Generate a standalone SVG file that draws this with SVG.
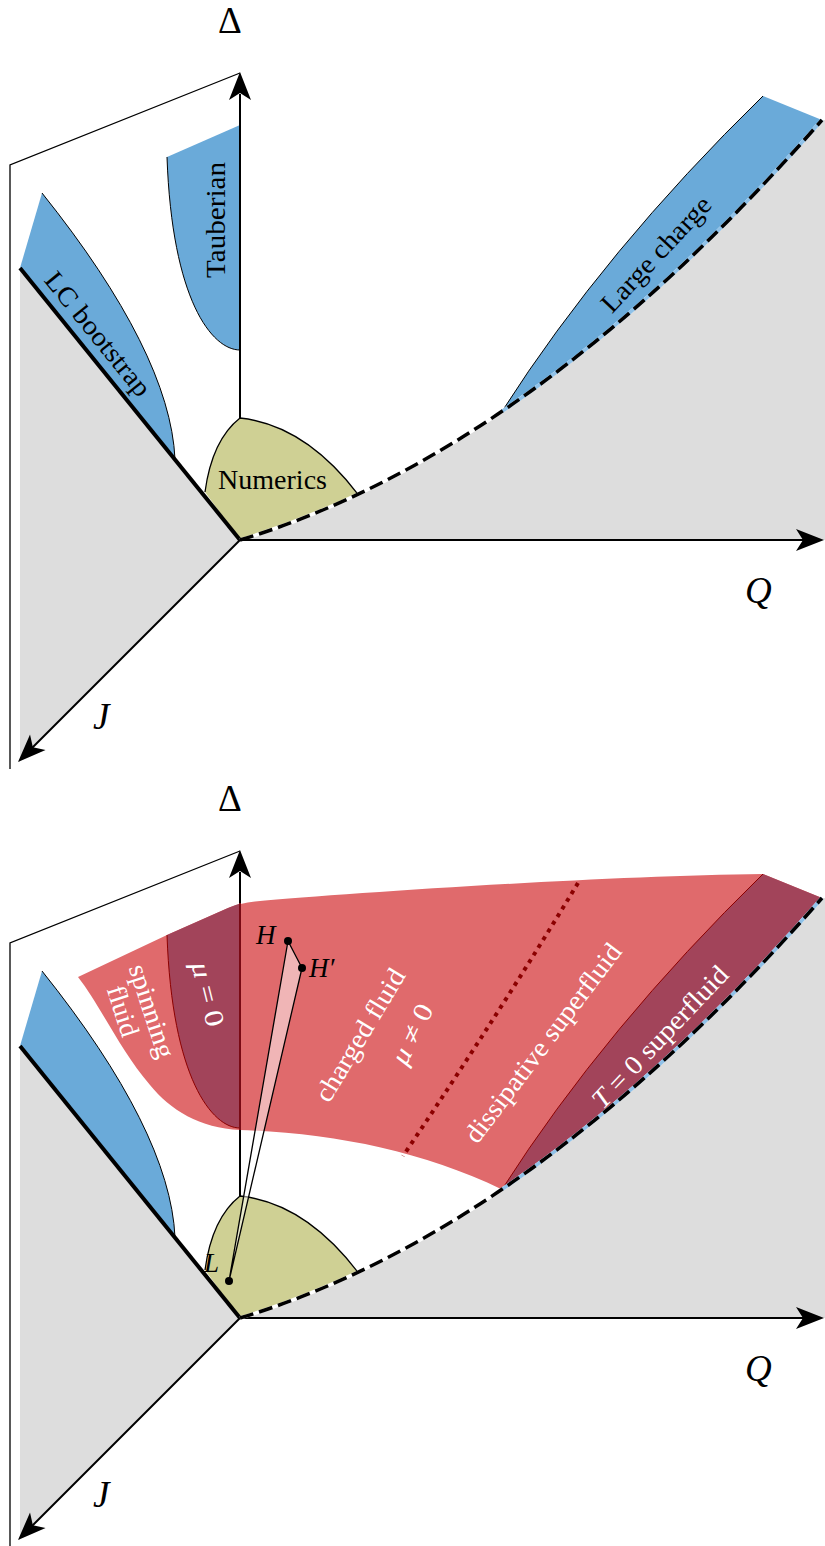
<svg xmlns="http://www.w3.org/2000/svg" width="825" height="1546" viewBox="0 0 825 1546">
<style>
.gray{fill:#dddddd;stroke:none}
.blue{fill:#6aaad9;stroke:none}
.olive{fill:#cfd094;stroke:none}
.red{fill:#e06a6c;stroke:none}
.maroon{fill:#a2445a;stroke:none}
.edge{fill:none;stroke:#000;stroke-width:1}
.redge{fill:none;stroke:#8b0000;stroke-width:1}
.ax{fill:none;stroke:#000;stroke-width:2}
.frame{fill:none;stroke:#000;stroke-width:1.3}
.thick{fill:none;stroke:#000;stroke-width:4}
.dashbase{fill:none;stroke:#fff;stroke-width:3.5}
.dashblue{fill:none;stroke:#8fc1e8;stroke-width:3.5}
.dash{fill:none;stroke:#000;stroke-width:3.5;stroke-dasharray:14 6}
.lbl{font-family:"Liberation Serif",serif;font-size:27px;fill:#000}
.wlbl{font-family:"Liberation Serif",serif;font-size:27px;fill:#fff}
.axl{font-family:"Liberation Serif",serif;font-size:37px;fill:#000}
.it{font-style:italic}
.pt{fill:#000}
</style>
<defs>
<path id="arrowUp" d="M0,0 L11,28 L0,21 L-11,28 Z"/>
</defs>

<!-- ================= TOP PANEL ================= -->
<g id="top">
  <g id="top-planes">
    <polygon class="gray" points="20,268 240,540 20,760"/>
    <path class="gray" d="M240,540 Q531,452 822,120 L825,120 L825,540 Z"/>
  </g>
  <g id="top-lc-bootstrap">
    <path class="blue" d="M20,268 L42,193 Q170,353 175,459 Z"/>
    <path class="edge" d="M42,193 Q170,353 175,459"/>
    <text class="lbl" transform="translate(98,334) rotate(51)" y="9" text-anchor="middle" textLength="152" lengthAdjust="spacingAndGlyphs">LC bootstrap</text>
  </g>
  <g id="top-tauberian">
    <path class="blue" d="M167,157 L240,125 L240,350 C212,350 172,300 167,157 Z"/>
    <path class="edge" d="M240,350 C212,350 172,300 167,157"/>
    <text class="lbl" transform="translate(216,220) rotate(-90)" y="9" text-anchor="middle" textLength="116" lengthAdjust="spacingAndGlyphs">Tauberian</text>
  </g>
  <g id="top-large-charge">
    <path class="blue" d="M502,411.4 Q605,250 763,96 L822,120 Q661.95,302.6 502,411.4 Z"/>
    <path class="edge" d="M502,411.4 Q605,250 763,96"/>
    <text class="lbl" transform="translate(656,254) rotate(-47)" y="9" text-anchor="middle" textLength="148" lengthAdjust="spacingAndGlyphs">Large charge</text>
  </g>
  <g id="top-connectors">
    <line class="ax" x1="240" y1="540" x2="240" y2="94"/>
  </g>
  <g id="top-numerics">
    <path class="olive" d="M240,540 L205,492 Q212,440 240,418 Q305,425 358,494.3 Q299,522.1 240,540 Z"/>
    <path class="edge" style="stroke-width:1.3" d="M205,492 Q212,440 240,418 Q305,425 358,494.3"/>
    <text class="lbl" x="218" y="489" textLength="109" lengthAdjust="spacingAndGlyphs">Numerics</text>
  </g>
  <g id="top-axes">
    <line class="thick" x1="20" y1="268" x2="240" y2="540"/>
    <path class="dashbase" d="M240,540 Q531,452 822,120"/>
    <path class="dashblue" d="M502,411.4 Q661.95,302.6 822,120"/>
    <path class="dash" d="M240,540 Q531,452 822,120"/>
    <line class="ax" x1="240" y1="540" x2="806" y2="540"/>
    <line class="ax" x1="240" y1="540" x2="32" y2="748"/>
    <polyline class="frame" points="240,73 10,165 10,769"/>
    <use href="#arrowUp" transform="translate(240,72)"/>
    <use href="#arrowUp" transform="translate(824,540) rotate(90)"/>
    <use href="#arrowUp" transform="translate(18,762) rotate(225)"/>
  </g>
  <g id="top-axis-labels">
    <text class="axl" x="230" y="33" text-anchor="middle">Δ</text>
    <text class="axl it" x="745" y="603">Q</text>
    <text class="axl it" x="93" y="729">J</text>
  </g>
</g>

<!-- ================= BOTTOM PANEL ================= -->
<g id="bottom">
  <g transform="translate(0,778)">
    <g id="bot-planes">
      <polygon class="gray" points="20,268 240,540 20,760"/>
      <path class="gray" d="M240,540 Q531,452 822,120 L825,120 L825,540 Z"/>
    </g>
    <g id="bot-lc-bootstrap">
      <path class="blue" d="M20,268 L42,193 Q170,353 175,459 Z"/>
      <path class="edge" d="M42,193 Q170,353 175,459"/>
    </g>
    <g id="bot-connectors">
      <line class="ax" x1="240" y1="540" x2="240" y2="94"/>
    </g>
    <g id="bot-numerics">
      <path class="olive" d="M240,540 L205,492 Q212,440 240,418 Q305,425 358,494.3 Q299,522.1 240,540 Z"/>
      <path class="edge" style="stroke-width:1.3" d="M205,492 Q212,440 240,418 Q305,425 358,494.3"/>
    </g>
    <g id="bot-axes">
      <line class="thick" x1="20" y1="268" x2="240" y2="540"/>
      <line class="ax" x1="240" y1="540" x2="806" y2="540"/>
      <line class="ax" x1="240" y1="540" x2="32" y2="748"/>
      <polyline class="frame" points="240,73 10,165 10,769"/>
      <use href="#arrowUp" transform="translate(240,72)"/>
      <use href="#arrowUp" transform="translate(824,540) rotate(90)"/>
      <use href="#arrowUp" transform="translate(18,762) rotate(225)"/>
    </g>
  </g>

  <g id="charged-fluid">
    <path class="red" d="M78,977 L167,935 L228,908 Q240,903 255,901.5 C350,893 600,876 763,874 L822,898 Q661.95,1080.6 502,1189.4 C420,1150 330,1133 240,1130 C200,1128 170,1110 150,1085 C120,1050 100,1005 78,977 Z"/>
    <text class="wlbl" transform="translate(360,1035) rotate(-59)" y="9" text-anchor="middle" textLength="150" lengthAdjust="spacingAndGlyphs">charged fluid</text>
    <text class="wlbl" transform="translate(412,1034) rotate(-64)" y="9" text-anchor="middle" textLength="64" lengthAdjust="spacingAndGlyphs"><tspan class="it">μ</tspan> ≠ 0</text>
  </g>
  <g id="spinning-fluid">
    <text class="wlbl" transform="translate(152,1011) rotate(72)" y="9" text-anchor="middle" textLength="97" lengthAdjust="spacingAndGlyphs">spinning</text>
    <text class="wlbl" transform="translate(123,1011) rotate(72)" y="9" text-anchor="middle" textLength="52" lengthAdjust="spacingAndGlyphs">fluid</text>
  </g>
  <g id="mu-zero">
    <path class="maroon" d="M167,935 L228,908 Q236,904.5 240,903.8 L240,1128 C212,1128 172,1078 167,935 Z"/>
    <path class="redge" d="M240,1128 C212,1128 172,1078 167,935"/>
    <line x1="240" y1="903" x2="240" y2="1130" stroke="#7a0a14" stroke-width="2"/>
    <text class="wlbl" transform="translate(208,994) rotate(76)" y="9" text-anchor="middle" textLength="66" lengthAdjust="spacingAndGlyphs"><tspan class="it">μ</tspan> = 0</text>
  </g>
  <g id="dissipative-superfluid">
    <path d="M578,883 Q500,1012 403,1156" fill="none" stroke="#8b0000" stroke-width="4" stroke-dasharray="4 5"/>
    <text class="wlbl" transform="translate(543,1043) rotate(-53)" y="9" text-anchor="middle" textLength="242" lengthAdjust="spacingAndGlyphs">dissipative superfluid</text>
  </g>
  <g id="t-zero-superfluid">
    <path class="maroon" d="M502,1189.4 Q605,1028 763,874 L822,898 Q661.95,1080.6 502,1189.4 Z"/>
    <path class="redge" d="M502,1189.4 Q605,1028 763,874"/>
    <text class="wlbl" transform="translate(660,1037) rotate(-46.5)" y="9" text-anchor="middle" textLength="185" lengthAdjust="spacingAndGlyphs"><tspan class="it">T</tspan> = 0 superfluid</text>
  </g>

  <g id="bot-boundary" transform="translate(0,778)">
    <path class="dashbase" d="M240,540 Q531,452 822,120"/>
    <path class="dashblue" d="M502,411.4 Q661.95,302.6 822,120"/>
    <path class="dash" d="M240,540 Q531,452 822,120"/>
  </g>

  <g id="hl-path">
    <polygon points="229,1281 288,941 302,968" fill="#fff" fill-opacity="0.5" stroke="#000" stroke-width="1.3" stroke-linejoin="round"/>
    <circle class="pt" cx="288" cy="941" r="4"/>
    <circle class="pt" cx="302" cy="968" r="4"/>
    <circle class="pt" cx="229" cy="1281" r="4"/>
    <text class="lbl it" x="256" y="944" font-size="24">H</text>
    <text class="lbl it" x="309" y="977" font-size="24">H′</text>
    <text class="lbl it" x="204" y="1272" font-size="24">L</text>
  </g>

  <g id="bot-axis-labels">
    <text class="axl" x="230" y="811" text-anchor="middle">Δ</text>
    <text class="axl it" x="745" y="1381">Q</text>
    <text class="axl it" x="93" y="1507">J</text>
  </g>
</g>
</svg>
